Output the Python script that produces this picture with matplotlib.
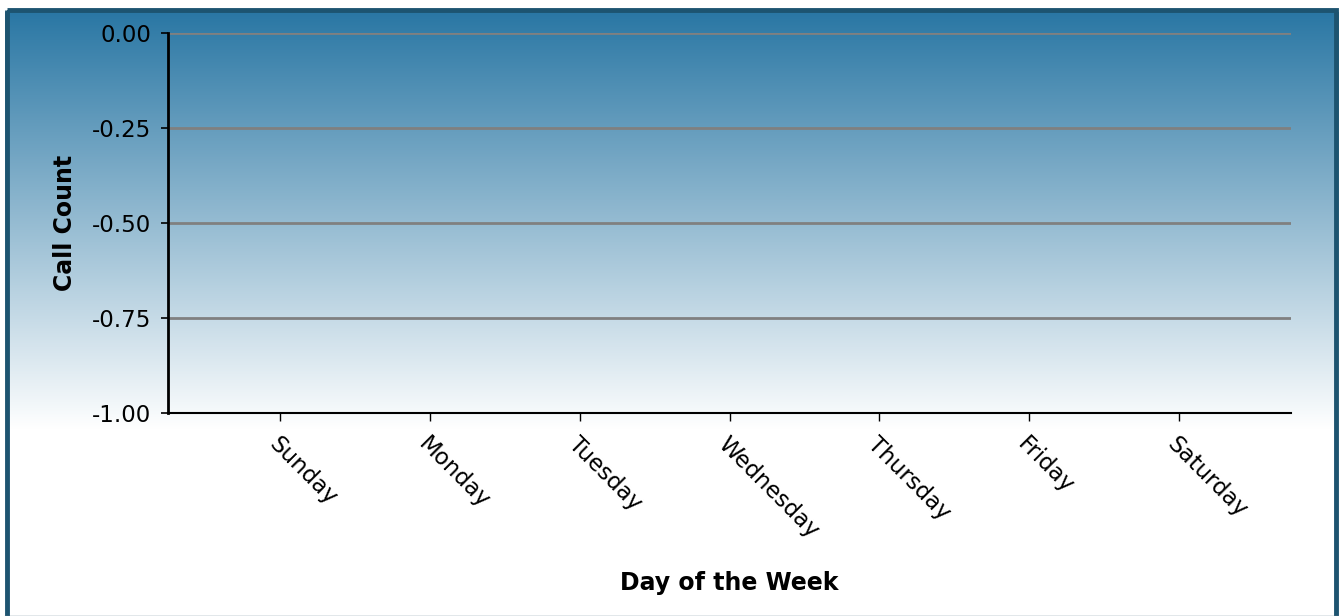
import matplotlib
matplotlib.use('Agg')
import matplotlib.pyplot as plt
from matplotlib.patches import Rectangle
import numpy as np

# weekly call volume
days = ['Sunday', 'Monday', 'Tuesday', 'Wednesday', 'Thursday', 'Friday', 'Saturday']
call_counts = [0, 0, 0, 0, 0, 0, 0]
y_ticks = [-1.00, -0.75, -0.50, -0.25, 0.00]

W, H = 1339, 616
fig = plt.figure(figsize=(W / 100, H / 100), dpi=100)
fig.patch.set_facecolor('white')

# background panel: blue fading to white
bg = fig.add_axes([0, 0, 1, 1], zorder=0)
bg.set_xlim(0, W)
bg.set_ylim(H, 0)
bg.axis('off')
top_rgb = np.array([42, 119, 164]) / 255.0
grad_top, grad_bot = 12, 430
t = np.linspace(0, 1, 256)[:, None]
grad = top_rgb[None, :] * (1 - t) + np.ones(3)[None, :] * t
bg.imshow(grad[:, None, :], extent=[5, W, grad_bot, grad_top], aspect='auto',
          interpolation='bilinear')
bg.add_patch(Rectangle((7, 10), 1328.5, H, facecolor='none', edgecolor='#1d5470', linewidth=3.5))
bg.plot([5, W], [615.5, 615.5], color='#6f8796', lw=1)

ax = fig.add_axes([168 / W, 1 - 413 / H, (1291 - 168) / W, (413 - 33) / H], zorder=1)
ax.patch.set_alpha(0)
x = np.arange(len(days))
ax.bar(x, call_counts, width=0.6, color='#2a77a4')
ax.set_xlim(-0.75, len(days) - 0.25)
ax.set_ylim(-1, 0)
ax.set_yticks(y_ticks)
ax.set_yticklabels([f'{v:.2f}' for v in y_ticks])
ax.set_xticks(x)
ax.set_xticklabels(days, rotation=-45, ha='left', rotation_mode='anchor')
ax.grid(axis='y', color='#808080', linewidth=2)
ax.set_axisbelow(True)
for s in ['top', 'right']:
    ax.spines[s].set_visible(False)
ax.spines['left'].set_linewidth(2)
ax.spines['bottom'].set_linewidth(1.5)
ax.tick_params(axis='y', length=5, width=1.2, pad=7, labelsize=16.5)
ax.tick_params(axis='x', length=6, width=1, pad=8, labelsize=16.5)
ax.set_ylabel('Call Count', fontsize=17, fontweight='bold')
ax.set_xlabel('Day of the Week', fontsize=17, fontweight='bold')
ax.yaxis.set_label_coords(-0.081, 0.5)
ax.xaxis.set_label_coords(0.5, -0.415)

fig.savefig('out.png', dpi=100)
